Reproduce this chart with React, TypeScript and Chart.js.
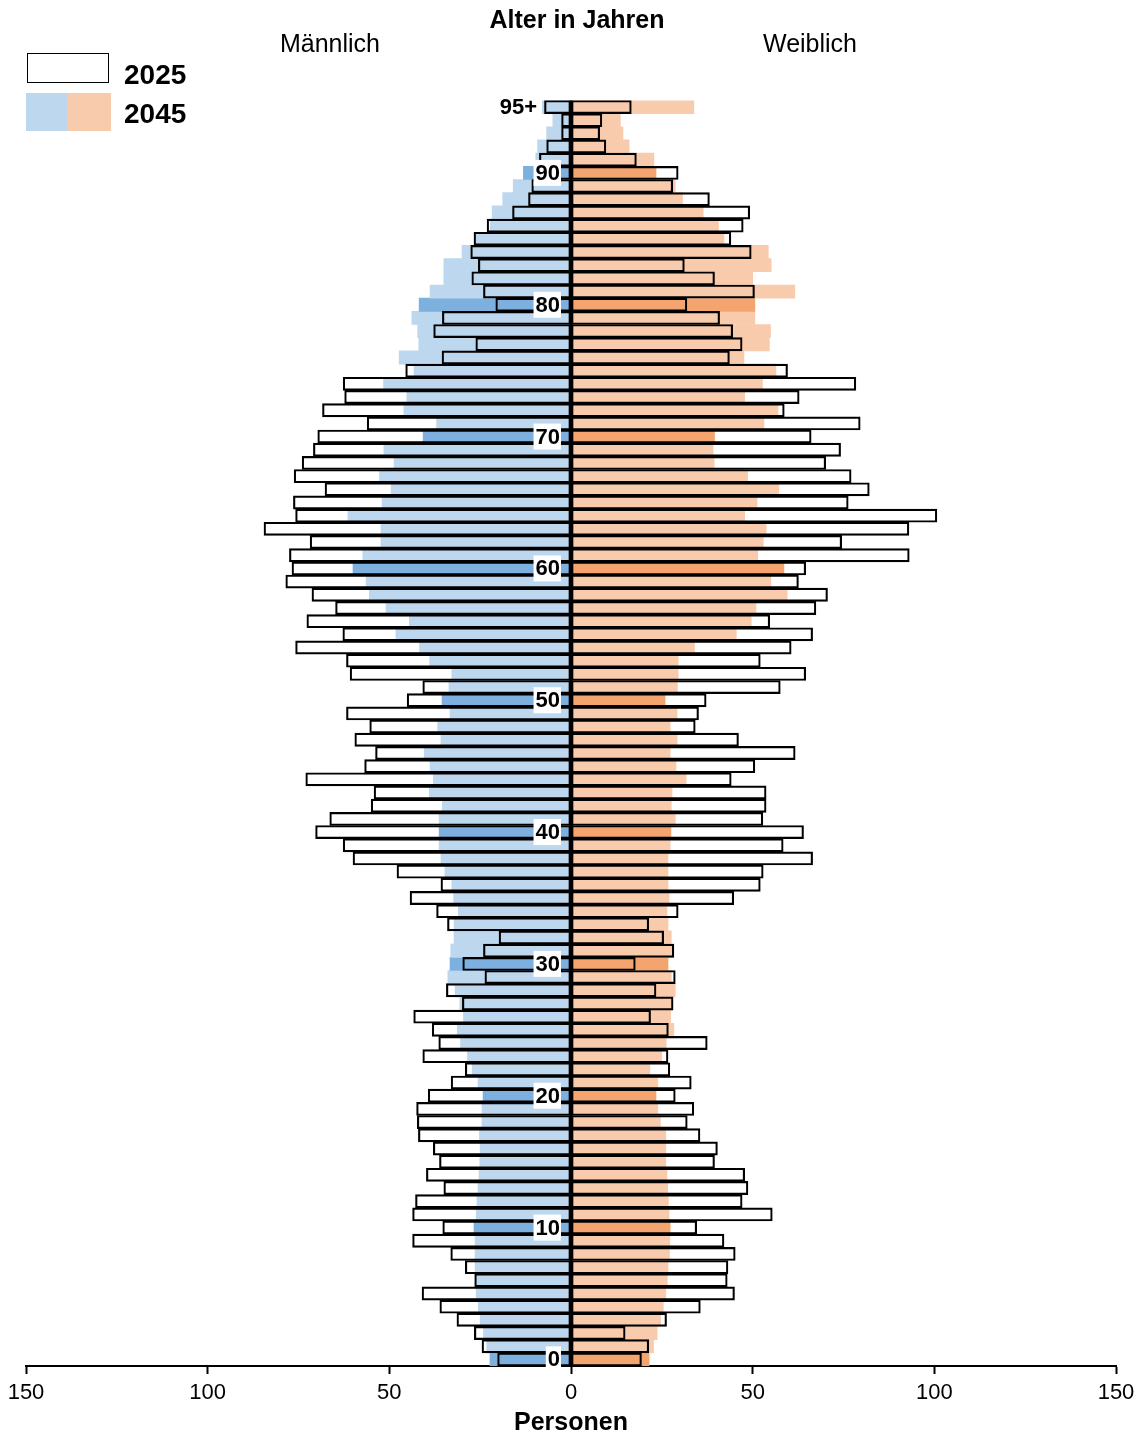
import React, { useEffect, useRef } from "react";
import { Chart, registerables } from "chart.js";

Chart.register(...registerables);

// Age categories 0 .. 95+
const ages: string[] = Array.from({ length: 96 }, (_, i) => (i === 95 ? "95+" : String(i)));
const highlightAges: string[] = ["0", "10", "20", "30", "40", "50", "60", "70", "80", "90"];
const xTicks: number[] = [-150, -100, -50, 0, 50, 100, 150];

// Values listed for ages 0 .. 95+
const male2025: number[] = [
  20.2, 24.5, 26.6, 31.4, 36.1, 41.0, 26.5, 29.1, 33.1, 43.6,
  35.3, 43.6, 42.8, 35.0, 39.8, 36.2, 37.9, 42.0, 42.3, 42.5,
  39.3, 33.0, 29.1, 40.8, 36.4, 38.2, 43.3, 29.9, 34.3, 23.7,
  29.8, 24.1, 19.8, 34.0, 37.0, 44.3, 35.8, 47.9, 60.0, 62.7,
  70.3, 66.4, 55.0, 54.2, 73.0, 56.8, 53.8, 59.5, 55.4, 61.8,
  45.1, 40.8, 60.8, 61.8, 75.8, 62.8, 72.7, 64.8, 71.3, 78.5,
  76.8, 77.5, 71.8, 84.5, 75.8, 76.4, 67.7, 76.2, 74.0, 70.9,
  69.7, 56.1, 68.4, 62.3, 62.7, 45.5, 35.5, 26.2, 37.8, 35.4,
  20.7, 24.1, 27.3, 25.5, 27.6, 26.7, 23.1, 16.1, 11.7, 10.8,
  10.0, 8.7, 6.7, 2.6, 2.6, 7.3,
];
const male2045: number[] = [
  22.3, 23.2, 24.1, 25.0, 25.5, 26.1, 26.4, 26.4, 26.4, 26.4,
  26.7, 26.1, 25.9, 25.6, 25.3, 25.1, 25.0, 25.2, 24.5, 24.5,
  24.2, 25.6, 27.2, 28.5, 30.4, 31.3, 29.6, 30.6, 31.9, 33.9,
  33.3, 33.1, 32.2, 32.2, 31.0, 32.3, 32.8, 34.7, 35.8, 36.3,
  36.3, 36.3, 35.4, 39.0, 37.9, 38.8, 40.4, 35.8, 36.7, 33.3,
  35.5, 33.6, 32.8, 38.9, 41.7, 48.2, 44.5, 50.9, 55.5, 56.4,
  60.0, 57.3, 52.3, 52.3, 61.4, 52.0, 49.5, 52.7, 48.7, 51.5,
  40.7, 37.0, 46.0, 45.2, 51.6, 43.2, 47.3, 41.9, 42.2, 43.8,
  41.8, 38.8, 35.0, 35.0, 30.0, 26.5, 22.2, 21.7, 18.8, 15.9,
  13.1, 9.7, 9.2, 6.7, 5.0, 8.2,
];
const female2025: number[] = [
  19.4, 21.4, 14.9, 26.3, 35.6, 45.0, 43.0, 43.2, 45.2, 42.1,
  34.6, 55.4, 47.1, 48.7, 47.8, 39.5, 40.3, 35.5, 32.0, 33.8,
  28.7, 33.1, 27.2, 26.7, 37.5, 26.8, 21.9, 28.1, 23.4, 28.7,
  17.7, 28.3, 25.5, 21.4, 29.5, 44.8, 52.1, 52.9, 66.5, 58.4,
  64.0, 52.8, 53.7, 53.7, 44.1, 50.6, 61.7, 46.1, 34.2, 35.1,
  37.2, 57.6, 64.6, 52.1, 60.6, 66.5, 54.7, 67.4, 70.6, 62.6,
  64.6, 93.1, 74.5, 93.0, 100.7, 76.3, 82.1, 77.1, 70.1, 74.2,
  66.1, 79.6, 58.7, 62.8, 78.4, 59.6, 43.6, 47.1, 44.5, 40.9,
  31.9, 50.5, 39.5, 31.2, 49.6, 44.0, 47.4, 49.2, 38.1, 28.0,
  29.5, 18.0, 9.6, 7.9, 8.5, 16.6,
];
const female2045: number[] = [
  21.5, 22.7, 23.7, 24.7, 25.4, 26.1, 26.5, 26.7, 27.1, 27.2,
  27.3, 27.0, 26.8, 26.6, 26.4, 26.1, 26.1, 26.1, 24.6, 23.9,
  23.4, 23.9, 21.7, 25.0, 26.2, 28.3, 27.4, 27.8, 28.7, 27.6,
  26.7, 28.3, 27.6, 26.7, 26.4, 27.0, 26.7, 26.7, 26.7, 27.3,
  27.5, 28.7, 27.6, 27.8, 31.7, 28.9, 27.3, 29.2, 27.3, 29.2,
  25.9, 29.3, 29.5, 29.5, 34.0, 45.5, 49.6, 50.9, 59.5, 55.0,
  58.6, 51.4, 52.9, 53.7, 47.8, 51.2, 57.2, 48.6, 39.4, 39.1,
  39.5, 53.1, 57.0, 47.8, 52.7, 56.4, 47.6, 54.6, 54.9, 50.6,
  50.6, 61.6, 50.0, 55.1, 54.3, 42.1, 40.6, 36.4, 30.7, 28.7,
  23.4, 22.8, 16.0, 14.3, 13.6, 33.8,
];

const FONT = '"Liberation Sans", Arial, Helvetica, sans-serif';
const BLUE_LIGHT = "#BDD7EE";
const BLUE_DARK = "#7DAFDF";
const ORANGE_LIGHT = "#F8CBAD";
const ORANGE_DARK = "#F4A56F";

const isHi = (a: string) => highlightAges.includes(a);

const overlayPlugin = {
  id: "overlay",
  afterDatasetsDraw(chart: any) {
    const { ctx, scales, chartArea } = chart;
    const x = scales.x;
    const y = scales.y;
    const x0 = x.getPixelForValue(0);
    ctx.save();
    // centre line
    ctx.strokeStyle = "#000";
    ctx.lineWidth = 3;
    ctx.beginPath();
    ctx.moveTo(x0, chartArea.top);
    ctx.lineTo(x0, chartArea.bottom);
    ctx.stroke();

    // age labels
    ctx.font = `bold 22px ${FONT}`;
    ctx.textBaseline = "middle";
    ctx.textAlign = "right";
    const labelList = [...highlightAges, "95+"];
    labelList.forEach((a) => {
      const idx = ages.indexOf(a);
      const yy = y.getPixelForValue(idx);
      const right = a === "95+" ? x0 - 34 : x0 - 11;
      const w = ctx.measureText(a).width;
      ctx.fillStyle = "#fff";
      ctx.fillRect(right - w - 2, yy - 13, w + (a === "95+" ? 7 : 3), 26);
      ctx.fillStyle = "#000";
      ctx.fillText(a, right, yy + 1);
    });
    ctx.restore();
  },
  afterDraw(chart: any) {
    const { ctx } = chart;
    ctx.save();
    ctx.fillStyle = "#000";
    ctx.textBaseline = "middle";
    ctx.textAlign = "center";
    ctx.font = `bold 25px ${FONT}`;
    ctx.fillText("Alter in Jahren", 577, 21);
    ctx.font = `25px ${FONT}`;
    ctx.fillText("Männlich", 330, 45);
    ctx.fillText("Weiblich", 810, 45);

    // legend
    ctx.fillStyle = "#fff";
    ctx.fillRect(27.5, 53.5, 81, 29);
    ctx.strokeStyle = "#000";
    ctx.lineWidth = 1;
    ctx.strokeRect(27.5, 53.5, 81, 29);
    ctx.fillStyle = BLUE_LIGHT;
    ctx.fillRect(26, 93, 41, 38);
    ctx.fillStyle = ORANGE_LIGHT;
    ctx.fillRect(67, 93, 44, 38);
    ctx.fillStyle = "#000";
    ctx.textAlign = "left";
    ctx.font = `bold 28px ${FONT}`;
    ctx.fillText("2025", 124, 76);
    ctx.fillText("2045", 124, 115);
    ctx.restore();
  },
};

export default function App() {
  const canvasRef = useRef<HTMLCanvasElement | null>(null);

  useEffect(() => {
    if (!canvasRef.current) return;
    const outline = {
      backgroundColor: "rgba(0,0,0,0)",
      borderColor: "#000",
      borderWidth: 1.5,
      borderSkipped: false,
      grouped: false,
      barPercentage: 1,
      categoryPercentage: 1,
      order: 0,
    };
    const filled = {
      borderWidth: 0,
      grouped: false,
      barPercentage: 1,
      categoryPercentage: 1,
      order: 1,
    };
    const chart = new Chart(canvasRef.current, {
      type: "bar",
      data: {
        labels: ages,
        datasets: [
          { ...outline, label: "Männlich 2025", data: male2025.map((v) => -v) },
          { ...outline, label: "Weiblich 2025", data: female2025 },
          {
            ...filled,
            label: "Männlich 2045",
            data: male2045.map((v) => -v),
            backgroundColor: ages.map((a) => (isHi(a) ? BLUE_DARK : BLUE_LIGHT)),
          },
          {
            ...filled,
            label: "Weiblich 2045",
            data: female2045,
            backgroundColor: ages.map((a) => (isHi(a) ? ORANGE_DARK : ORANGE_LIGHT)),
          },
        ],
      } as any,
      options: {
        indexAxis: "y",
        responsive: false,
        animation: false,
        events: [],
        layout: { padding: { left: 26, right: 28, top: 100.4, bottom: 0.6 } },
        plugins: {
          legend: { display: false },
          tooltip: { enabled: false },
          title: { display: false },
        },
        scales: {
          x: {
            type: "linear",
            min: -150,
            max: 150,
            afterBuildTicks: (scale: any) => {
              scale.ticks = xTicks.map((v) => ({ value: v }));
            },
            ticks: {
              callback: (v: any) => String(Math.abs(Number(v))),
              color: "#000",
              font: { family: FONT, size: 22 },
              padding: 6,
              maxRotation: 0,
              autoSkip: false,
            },
            grid: {
              display: true,
              drawOnChartArea: false,
              drawTicks: true,
              tickLength: 8,
              tickColor: "#000",
              tickWidth: 2,
            },
            border: { display: true, color: "#000", width: 2 },
            title: {
              display: true,
              text: "Personen",
              color: "#000",
              font: { family: FONT, size: 25, weight: "bold" },
              padding: { top: -4, bottom: -3 },
            },
          },
          y: {
            type: "category",
            display: false,
            reverse: true,
            grid: { display: false },
          },
        },
      } as any,
      plugins: [overlayPlugin],
    });
    return () => chart.destroy();
  }, []);

  return (
    <div style={{ position: "fixed", left: 0, top: 0, width: 1144, height: 1436, background: "#fff" }}>
      <canvas ref={canvasRef} width={1144} height={1436} style={{ display: "block" }} />
    </div>
  );
}
